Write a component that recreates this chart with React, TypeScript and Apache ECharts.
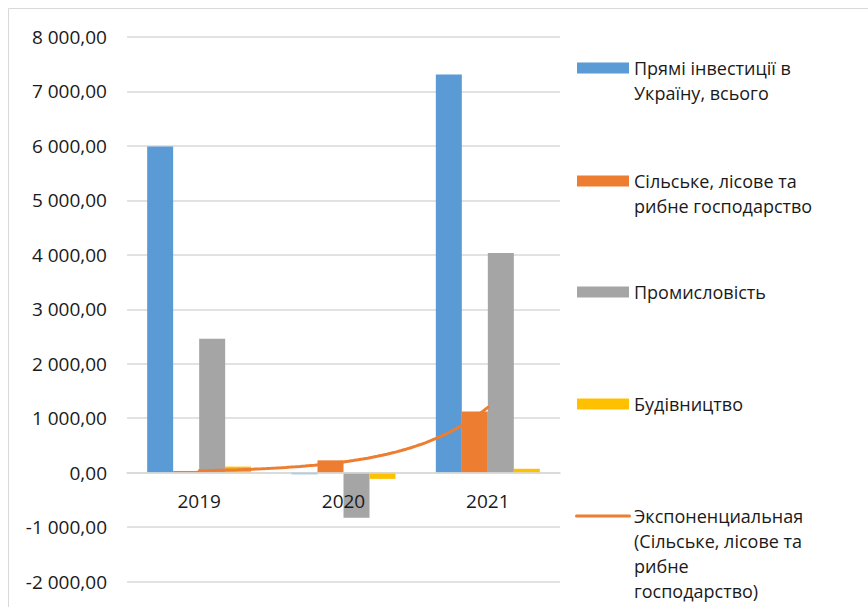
import React, { useEffect, useRef } from "react";
import * as echarts from "echarts";

// ---- Data ----
const categories = ["2019", "2020", "2021"];
const investTotal = [5990, -30, 7310];
const agriculture = [30, 225, 1120];
const industry = [2460, -830, 4035];
const construction = [110, -115, 70];

const seriesNames = [
  "Прямі інвестиції в Україну, всього",
  "Сільське, лісове та рибне господарство",
  "Промисловість",
  "Будівництво",
  "Экспоненциальная (Сільське, лісове та рибне господарство)",
];
const legendLabels = [
  "Прямі інвестиції в\nУкраїну, всього",
  "Сільське, лісове та\nрибне господарство",
  "Промисловість",
  "Будівництво",
  "Экспоненциальная\n(Сільське, лісове та\nрибне\nгосподарство)",
];
const yMin = -2000;
const yMax = 8000;
const yStep = 1000;

const colors = ["#5B9BD5", "#ED7D31", "#A5A5A5", "#FFC000"];
const FONT = "'Open Sans', 'Noto Sans', sans-serif";
const TEXT = "#1a1a1a";

// Exponential trendline (least squares fit of ln(y) on x = 1..n, as Excel does)
function expTrend(vals: number[]) {
  const n = vals.length;
  const xs = vals.map((_, i) => i + 1);
  const ls = vals.map((v) => Math.log(v));
  const mx = xs.reduce((a, b) => a + b, 0) / n;
  const my = ls.reduce((a, b) => a + b, 0) / n;
  let num = 0;
  let den = 0;
  for (let i = 0; i < n; i++) {
    num += (xs[i] - mx) * (ls[i] - my);
    den += (xs[i] - mx) * (xs[i] - mx);
  }
  const b = num / den;
  const a = my - b * mx;
  const pts: number[][] = [];
  const steps = 60;
  for (let k = 0; k <= steps; k++) {
    const t = ((n - 1) * k) / steps; // 0..n-1 (category index)
    pts.push([t, Math.exp(a + b * (t + 1))]);
  }
  return pts;
}

function fmt(v: number) {
  const neg = v < 0;
  const abs = Math.abs(v);
  const intPart = Math.floor(abs).toString().replace(/\B(?=(\d{3})+(?!\d))/g, " ");
  const dec = (abs - Math.floor(abs)).toFixed(2).slice(2);
  return (neg ? "-" : "") + intPart + "," + dec;
}

export default function App() {
  const ref = useRef<HTMLDivElement>(null);
  useEffect(() => {
    document.body.style.margin = "0";
    if (!ref.current) return;
    const chart = echarts.init(ref.current, null, { renderer: "svg" });

    const W = 868;
    const H = 607;
    const gridTop = 37;
    const gridBottom = 25.5;
    const gridH = H - gridTop - gridBottom;
    // shift the category axis up to the zero line
    const zeroOffset = -((0 - yMin) / (yMax - yMin)) * gridH;

    const legendCenters = [68, 181, 292, 404, 516];
    const LH = 25;
    const legendGraphics: any[] = [];
    legendLabels.forEach((label, i) => {
      const c = legendCenters[i];
      if (i < 4) {
        legendGraphics.push({
          type: "rect",
          shape: { x: 577, y: c - 5.5, width: 52, height: 11 },
          style: { fill: colors[i] },
        });
      } else {
        legendGraphics.push({
          type: "line",
          shape: { x1: 576.5, y1: c, x2: 629.5, y2: c },
          style: { stroke: colors[1], lineWidth: 3, lineCap: "round" },
        });
      }
      legendGraphics.push({
        type: "text",
        x: 634,
        y: c - LH / 2,
        style: {
          text: label,
          fill: TEXT,
          fontSize: 18,
          fontFamily: FONT,
          lineHeight: LH,
          verticalAlign: "top",
          align: "left",
        },
      });
    });

    const bars = [investTotal, agriculture, industry, construction].map((d, i) => ({
      name: seriesNames[i],
      type: "bar",
      data: d,
      barWidth: 26,
      barGap: "0%",
      itemStyle: { color: colors[i] },
      xAxisIndex: 0,
      z: 2,
    }));

    chart.setOption({
      animation: false,
      backgroundColor: "#ffffff",
      textStyle: { fontFamily: FONT },
      grid: { left: 127, right: W - 560, top: gridTop, bottom: gridBottom, containLabel: false },
      xAxis: [
        {
          type: "category",
          data: categories,
          offset: zeroOffset,
          z: 10,
          axisLine: { onZero: false, lineStyle: { color: "#d9d9d9", width: 1.5 } },
          axisTick: { show: false },
          axisLabel: { color: TEXT, fontSize: 19, fontFamily: FONT, margin: 19 },
          splitLine: { show: false },
        },
        {
          type: "value",
          min: -0.5,
          max: 2.5,
          show: false,
          axisLine: { onZero: false },
        },
      ],
      yAxis: {
        type: "value",
        min: yMin,
        max: yMax,
        interval: yStep,
        axisLine: { show: false, onZero: false },
        axisTick: { show: false },
        axisLabel: {
          color: TEXT,
          fontSize: 19,
          fontFamily: FONT,
          margin: 20,
          formatter: (v: number) => fmt(v),
        },
        splitLine: { lineStyle: { color: "#d9d9d9", width: 1.5 } },
      },
      series: [
        ...bars,
        {
          name: seriesNames[4],
          type: "line",
          xAxisIndex: 1,
          data: expTrend(agriculture),
          showSymbol: false,
          symbol: "none",
          smooth: false,
          lineStyle: { color: colors[1], width: 3, cap: "round" },
          z: 5,
        },
      ],
      graphic: [
        {
          type: "rect",
          shape: { x: 8.5, y: 8.5, width: 900, height: 700 },
          style: { fill: "none", stroke: "#d9d9d9", lineWidth: 1 },
          silent: true,
        },
        ...legendGraphics,
      ],
    });
    return () => chart.dispose();
  }, []);
  return <div ref={ref} style={{ width: 868, height: 607 }} />;
}
